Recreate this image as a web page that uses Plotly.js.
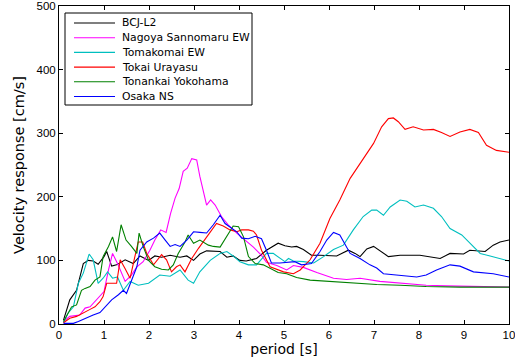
<!DOCTYPE html>
<html>
<head>
<meta charset="utf-8">
<script src="https://cdn.plot.ly/plotly-3.0.1.min.js"></script>
<style>html,body{margin:0;padding:0;background:#fff;}#chart{width:515px;height:362px;}</style>
</head>
<body>
<div id="chart"></div>
<script>
// BCJ-L2
const bcjT = [0.1,0.24,0.39,0.54,0.65,0.76,0.87,1.0,1.06,1.17,1.28,1.47,1.65,1.8,1.99,2.13,2.28,2.47,2.69,2.84,2.99,3.13,3.28,3.58,3.73,3.87,4.02,4.16,4.39,4.61,4.87,5.02,5.17,5.28,5.43,5.61,5.8,6.17,6.43,6.58,6.69,6.84,6.99,7.17,7.32,7.58,8.02,8.47,8.69,8.99,9.13,9.47,9.65,9.8,10];
const bcjV = [6,38,53,95,100,99,94,106,114,91,93,101,95,107,100,107,105,108,105,107,100,110,115,114,105,107,100,99,103,116,127,123,121,122,117,108,108,107,116,111,106,118,122,114,106,108,108,103,111,110,116,114,124,129,132];
// Nagoya Sannomaru EW
const nagT = [0.1,0.24,0.46,0.58,0.69,0.8,0.9,1.0,1.1,1.19,1.3,1.47,1.61,1.73,1.87,2.02,2.13,2.26,2.38,2.48,2.58,2.67,2.76,2.85,2.95,3.06,3.13,3.28,3.37,3.47,3.61,3.76,3.95,4.13,4.32,4.5,4.61,4.84,5.06,5.21,5.43,5.73,6.1,6.39,6.69,7.13,7.58,8.16,8.61,9.36,10];
const nagV = [4,12,14,25,27,35,43,51,85,111,95,67,77,90,98,116,132,148,144,174,198,213,240,245,260,258,232,187,195,187,169,156,143,132,121,108,97,92,85,92,89,81,72,70,72,67,64,61,60,59,58];
// Tomakomai EW
const tomT = [0.1,0.2,0.32,0.43,0.54,0.67,0.76,0.87,0.98,1.08,1.19,1.3,1.43,1.58,1.76,1.99,2.24,2.47,2.69,2.87,2.99,3.13,3.36,3.58,3.73,3.87,4.02,4.21,4.39,4.61,4.76,4.91,5.02,5.1,5.21,5.43,5.66,5.88,6.1,6.32,6.54,6.76,6.95,7.06,7.21,7.36,7.58,7.73,7.91,8.1,8.32,8.5,8.69,8.95,9.13,9.36,9.58,9.8,10];
const tomV = [2,17,27,64,80,110,101,64,72,82,72,74,53,67,61,64,77,75,85,69,64,82,100,111,114,107,98,93,93,111,111,103,98,103,99,98,96,106,117,124,148,169,179,179,171,184,195,193,184,187,182,169,150,140,127,111,107,103,99];
// Tokai Urayasu
const tokT = [0.1,0.24,0.39,0.54,0.69,0.8,0.91,0.98,1.06,1.28,1.36,1.47,1.58,1.67,1.76,1.86,1.95,2.1,2.28,2.39,2.5,2.61,2.69,2.8,2.95,3.1,3.32,3.5,3.65,3.8,3.95,4.06,4.21,4.32,4.39,4.5,4.69,4.76,4.99,5.21,5.36,5.58,5.8,6.02,6.24,6.47,6.69,6.99,7.17,7.32,7.43,7.54,7.69,7.87,8.1,8.32,8.5,8.69,8.91,9.13,9.32,9.5,9.72,10];
const tokV = [2,9,12,17,23,27,35,43,64,64,101,87,72,101,129,129,111,93,109,101,82,90,93,82,103,119,140,158,154,148,145,148,148,146,140,116,90,88,82,79,85,101,127,166,195,229,253,284,310,323,324,318,306,310,305,306,301,295,302,306,301,281,273,270];
// Tonankai Yokohama
const tonT = [0.1,0.2,0.28,0.39,0.5,0.58,0.69,0.8,0.91,0.98,1.1,1.19,1.28,1.38,1.49,1.61,1.73,1.78,1.87,1.99,2.13,2.28,2.43,2.54,2.65,2.8,2.87,2.99,3.13,3.32,3.43,3.58,3.73,3.87,3.99,4.1,4.21,4.36,4.54,4.69,4.87,5.06,5.28,5.58,5.95,6.39,6.69,7.06,7.58,8.16,8.91,10];
const tonV = [4,17,27,30,53,56,59,69,74,106,122,137,114,156,132,122,111,143,122,100,90,86,85,93,111,129,140,127,132,124,122,121,137,154,153,137,106,95,93,88,81,79,73,69,67,65,64,62,61,59,58,58];
// Osaka NS
const osaT = [0.1,0.32,0.43,0.58,0.76,0.91,1.02,1.17,1.32,1.43,1.5,1.61,1.73,1.8,1.95,2.1,2.24,2.36,2.47,2.58,2.69,2.84,2.99,3.13,3.28,3.43,3.58,3.69,3.84,3.95,4.06,4.21,4.36,4.5,4.61,4.72,4.91,5.24,5.39,5.61,5.8,5.95,6.1,6.24,6.47,6.69,6.91,7.06,7.21,7.58,7.95,8.16,8.39,8.69,8.91,9.21,9.43,9.65,10];
const osaV = [1,1,4,9,14,18,27,38,46,53,48,69,90,116,129,135,143,132,122,125,122,132,145,144,143,156,171,158,150,145,135,134,138,134,116,96,96,98,93,95,114,132,144,140,111,103,93,88,79,77,74,77,85,93,91,82,80,79,74];

const names = ['BCJ-L2','Nagoya Sannomaru EW','Tomakomai EW','Tokai Urayasu','Tonankai Yokohama','Osaka NS'];
const colors = ['#000000','#ff00ff','#00bfbf','#ff0000','#008000','#0000ff'];
const xTicks = [0,1,2,3,4,5,6,7,8,9,10];
const yTicks = [0,100,200,300,400,500];
const xs = [bcjT,nagT,tomT,tokT,tonT,osaT];
const ys = [bcjV,nagV,tomV,tokV,tonV,osaV];

const traces = names.map((n,i)=>({
  x: xs[i], y: ys[i], name: n, type:'scatter', mode:'lines',
  line:{color:colors[i], width:1.1}, showlegend:false
}));

// Custom compact legend (paper coordinates)
const W = 450, H = 318;
const px = v => v / W, py = v => 1 - v / H;
const legBox = {x0:6, x1:193, y0:7, y1:99};
const rowTop = 17, rowStep = 14.7;
const shapes = [{
  type:'rect', xref:'paper', yref:'paper',
  x0:px(legBox.x0), x1:px(legBox.x1), y0:py(legBox.y1), y1:py(legBox.y0),
  line:{color:'#000', width:1}, fillcolor:'#fff', layer:'above'
}];
const annotations = [];
names.forEach((n,i)=>{
  const yy = rowTop + i*rowStep;
  shapes.push({type:'line', xref:'paper', yref:'paper', x0:px(15), x1:px(56), y0:py(yy), y1:py(yy),
    line:{color:colors[i], width:1.1}, layer:'above'});
  annotations.push({xref:'paper', yref:'paper', x:px(61), y:py(yy), xanchor:'left', yanchor:'middle',
    text:n, showarrow:false, font:{family:'DejaVu Sans, sans-serif', size:10.8, color:'#000'}});
});

const axisCommon = {
  showgrid:false, zeroline:false, showline:true, linecolor:'#000', linewidth:1,
  mirror:'ticks', ticks:'inside', ticklen:4, tickcolor:'#000', ticklabeloverflow:'allow',
  tickfont:{family:'Liberation Sans, Arial, sans-serif', size:11.5, color:'#000'}
};

const layout = {
  width:515, height:362,
  margin:{l:59, r:6, t:6, b:38},
  paper_bgcolor:'#fff', plot_bgcolor:'#fff',
  font:{family:'Liberation Sans, Arial, sans-serif', color:'#000'},
  xaxis: Object.assign({}, axisCommon, {
    range:[0,10.0001], tickmode:'array', tickvals:xTicks, ticktext:xTicks.map(String),
    title:{text:'period [s]', font:{family:'DejaVu Sans, sans-serif', size:14}, standoff:4}
  }),
  yaxis: Object.assign({}, axisCommon, {
    range:[0,500.01], tickmode:'array', tickvals:yTicks, ticktext:yTicks.map(String),
    title:{text:'Velocity response [cm/s]', font:{family:'DejaVu Sans, sans-serif', size:14.5}, standoff:8}
  }),
  showlegend:false,
  shapes: shapes,
  annotations: annotations
};

Plotly.newPlot('chart', traces, layout, {displayModeBar:false, staticPlot:true});
</script>
</body>
</html>
